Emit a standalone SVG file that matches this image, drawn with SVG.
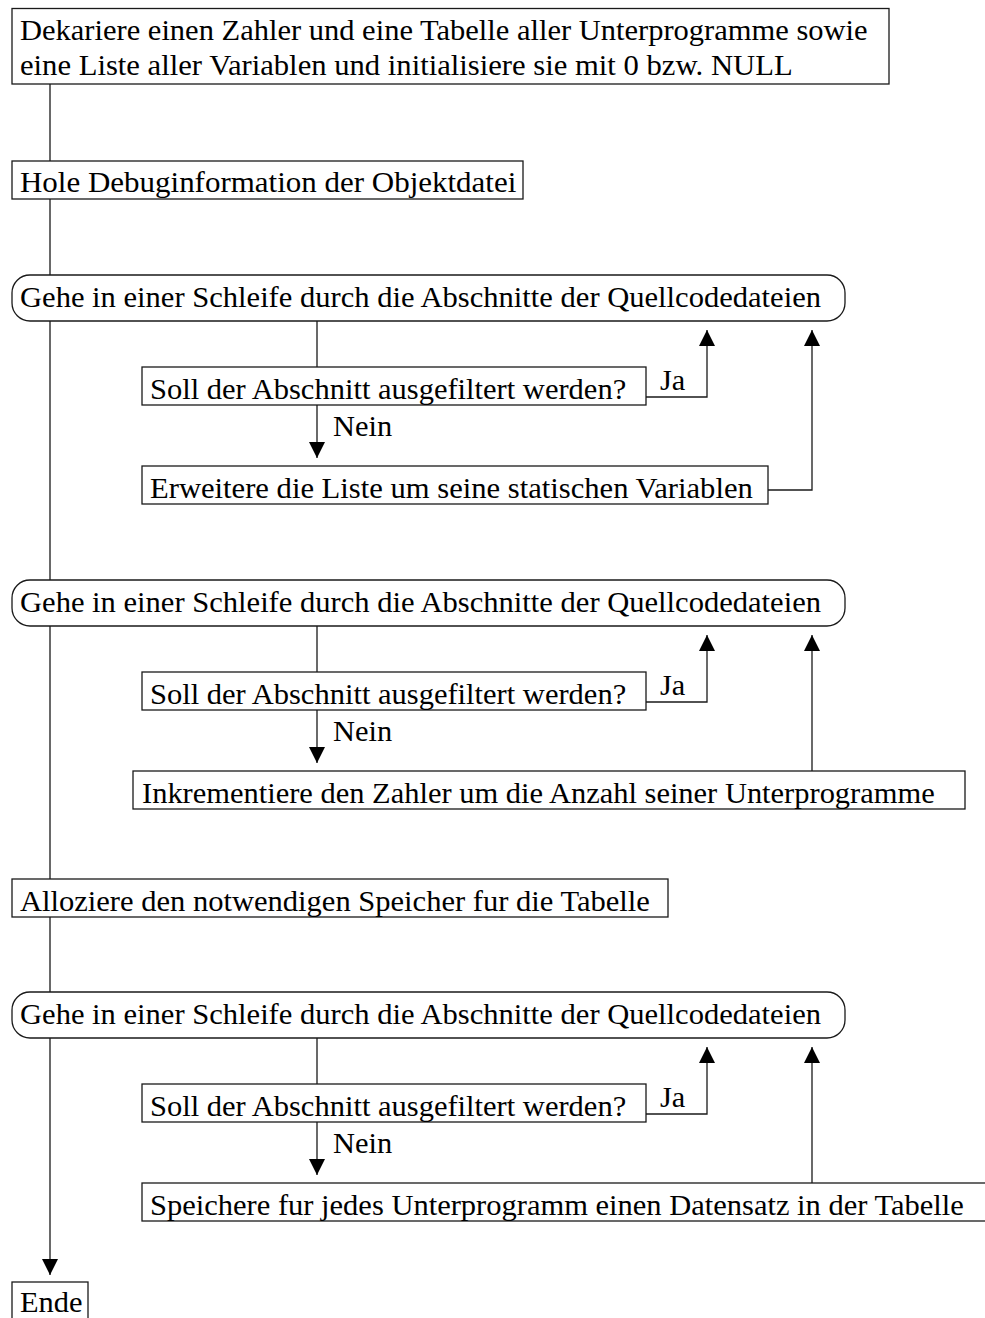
<svg xmlns="http://www.w3.org/2000/svg" width="985" height="1318" viewBox="0 0 985 1318">
<style>
.box{fill:#fff;stroke:#1a1a1a;stroke-width:1.3}
.ln{fill:none;stroke:#1a1a1a;stroke-width:1.3}
.t{font-family:'Liberation Serif','Times New Roman',serif;font-size:30px;fill:#000}
</style>
<defs>
<marker id="ah" markerUnits="userSpaceOnUse" markerWidth="16" markerHeight="16" refX="16" refY="8" orient="auto">
<path d="M0,0 L16,8 L0,16 z" fill="#000"/>
</marker>
</defs>
<rect width="985" height="1318" fill="#fff"/>
<g id="connectors">
<path class="ln" d="M50,84 V161 M50,199 V275 M50,321 V580 M50,626 V879 M50,917 V992"/>
<path class="ln" d="M50,1038 V1275" marker-end="url(#ah)"/>
<path class="ln" d="M317,321 V367 M317,626 V672 M317,1038 V1084"/>
<path class="ln" d="M317,405 V458" marker-end="url(#ah)"/>
<path class="ln" d="M317,710 V763" marker-end="url(#ah)"/>
<path class="ln" d="M317,1122 V1175" marker-end="url(#ah)"/>
<path class="ln" d="M646,397 H707 V330" marker-end="url(#ah)"/>
<path class="ln" d="M646,702 H707 V635" marker-end="url(#ah)"/>
<path class="ln" d="M646,1114 H707 V1047" marker-end="url(#ah)"/>
<path class="ln" d="M768,490 H812 V330" marker-end="url(#ah)"/>
<path class="ln" d="M812,771 V635" marker-end="url(#ah)"/>
<path class="ln" d="M812,1183 V1047" marker-end="url(#ah)"/>
<text class="t" x="660" y="390" textLength="25.3" lengthAdjust="spacingAndGlyphs">Ja</text>
<text class="t" x="660" y="695" textLength="25.3" lengthAdjust="spacingAndGlyphs">Ja</text>
<text class="t" x="660" y="1107" textLength="25.3" lengthAdjust="spacingAndGlyphs">Ja</text>
<text class="t" x="333" y="436" textLength="59.1" lengthAdjust="spacingAndGlyphs">Nein</text>
<text class="t" x="333" y="741" textLength="59.1" lengthAdjust="spacingAndGlyphs">Nein</text>
<text class="t" x="333" y="1153" textLength="59.1" lengthAdjust="spacingAndGlyphs">Nein</text>
</g>
<g id="n_init">
<rect class="box" x="12" y="8.5" width="877" height="75.5"/>
<text class="t" x="20" y="40" textLength="847.6" lengthAdjust="spacingAndGlyphs">Dekariere einen Zahler und eine Tabelle aller Unterprogramme sowie</text>
<text class="t" x="20" y="75" textLength="772.6" lengthAdjust="spacingAndGlyphs">eine Liste aller Variablen und initialisiere sie mit 0 bzw. NULL</text>
</g>
<g id="n_hole">
<rect class="box" x="12" y="161" width="511" height="38"/>
<text class="t" x="20" y="192" textLength="496.3" lengthAdjust="spacingAndGlyphs">Hole Debuginformation der Objektdatei</text>
</g>
<g id="n_loop1">
<rect class="box" x="12" y="275" width="833" height="46" rx="18" ry="18"/>
<text class="t" x="20" y="307" textLength="801" lengthAdjust="spacingAndGlyphs">Gehe in einer Schleife durch die Abschnitte der Quellcodedateien</text>
</g>
<g id="n_soll1">
<rect class="box" x="142" y="367" width="504" height="38"/>
<text class="t" x="150" y="398.5" textLength="476.2" lengthAdjust="spacingAndGlyphs">Soll der Abschnitt ausgefiltert werden?</text>
</g>
<g id="n_erw">
<rect class="box" x="142" y="466" width="626" height="38"/>
<text class="t" x="150" y="498" textLength="602.8" lengthAdjust="spacingAndGlyphs">Erweitere die Liste um seine statischen Variablen</text>
</g>
<g id="n_loop2">
<rect class="box" x="12" y="580" width="833" height="46" rx="18" ry="18"/>
<text class="t" x="20" y="612" textLength="801" lengthAdjust="spacingAndGlyphs">Gehe in einer Schleife durch die Abschnitte der Quellcodedateien</text>
</g>
<g id="n_soll2">
<rect class="box" x="142" y="672" width="504" height="38"/>
<text class="t" x="150" y="703.5" textLength="476.2" lengthAdjust="spacingAndGlyphs">Soll der Abschnitt ausgefiltert werden?</text>
</g>
<g id="n_inkr">
<rect class="box" x="133" y="771" width="832" height="38"/>
<text class="t" x="142" y="803" textLength="792.7" lengthAdjust="spacingAndGlyphs">Inkrementiere den Zahler um die Anzahl seiner Unterprogramme</text>
</g>
<g id="n_alloc">
<rect class="box" x="12" y="879" width="656" height="38"/>
<text class="t" x="20" y="911" textLength="629.8" lengthAdjust="spacingAndGlyphs">Alloziere den notwendigen Speicher fur die Tabelle</text>
</g>
<g id="n_loop3">
<rect class="box" x="12" y="992" width="833" height="46" rx="18" ry="18"/>
<text class="t" x="20" y="1024" textLength="801" lengthAdjust="spacingAndGlyphs">Gehe in einer Schleife durch die Abschnitte der Quellcodedateien</text>
</g>
<g id="n_soll3">
<rect class="box" x="142" y="1084" width="504" height="38"/>
<text class="t" x="150" y="1115.5" textLength="476.2" lengthAdjust="spacingAndGlyphs">Soll der Abschnitt ausgefiltert werden?</text>
</g>
<g id="n_speich">
<rect class="box" x="142" y="1183" width="850" height="38"/>
<text class="t" x="150" y="1215" textLength="813.8" lengthAdjust="spacingAndGlyphs">Speichere fur jedes Unterprogramm einen Datensatz in der Tabelle</text>
</g>
<g id="n_ende">
<rect class="box" x="12" y="1282" width="76" height="40"/>
<text class="t" x="20" y="1312" textLength="62.5" lengthAdjust="spacingAndGlyphs">Ende</text>
</g>
</svg>
